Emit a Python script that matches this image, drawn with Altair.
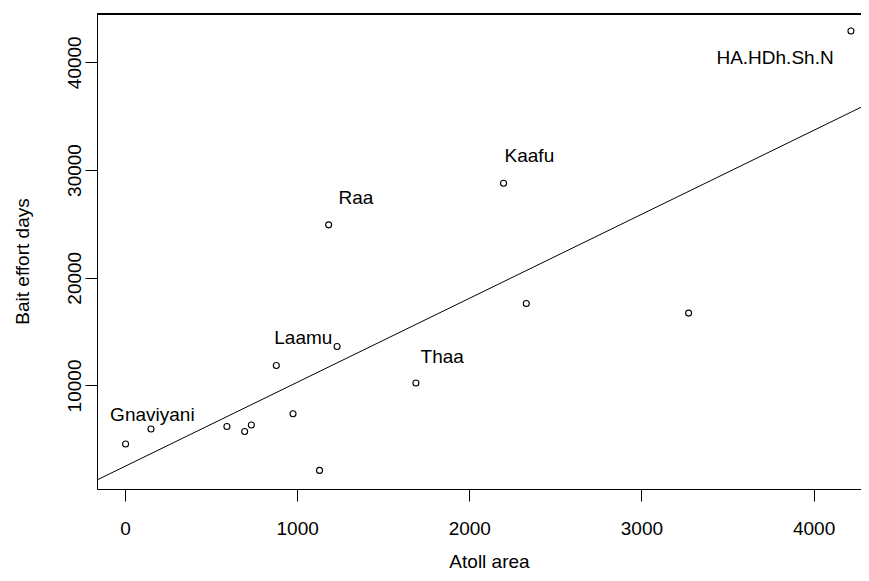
import altair as alt
import pandas as pd

# data
atoll_area = [3.5, 151, 592, 695, 734, 879, 976, 1130, 1232, 1183, 1690, 2199, 2331, 3274, 4217]
bait_effort = [4564, 5955, 6197, 5733, 6327, 11855, 7375, 2115, 13618, 24907, 10223, 28776, 17607, 16716, 42904]

label_names = ["Gnaviyani", "Laamu", "Raa", "Thaa", "Kaafu", "HA.HDh.Sh.N"]
label_x = [159, 1036, 1341, 1843, 2349, 3776]
label_y = [6725, 13840, 26855, 12078, 30779, 39814]

fit_intercept = 2495
fit_slope = 7.795

x_ticks = [0, 1000, 2000, 3000, 4000]
y_ticks = [10000, 20000, 30000, 40000]
x_domain = [-162.6, 4275.4]
y_domain = [390, 44480]

W, H = 764, 475
FONT = "Liberation Sans"

pts = pd.DataFrame({"x": atoll_area, "y": bait_effort})
labs = pd.DataFrame({"x": label_x, "y": label_y, "name": label_names})
fit = pd.DataFrame({"x": x_domain,
                    "y": [fit_intercept + fit_slope * v for v in x_domain]})

X = alt.X("x:Q",
          scale=alt.Scale(domain=x_domain, nice=False, zero=False),
          axis=alt.Axis(values=x_ticks, title="Atoll area", format="d",
                        labelFlush=False, labelOverlap=False, labelBound=False,
                        labelBaseline="alphabetic", labelPadding=33,
                        titleX=392, titleY=78, titleAlign="center",
                        titleBaseline="alphabetic"))
Y = alt.Y("y:Q",
          scale=alt.Scale(domain=y_domain, nice=False, zero=False),
          axis=alt.Axis(values=y_ticks, title="Bait effort days", format="d",
                        labelAngle=270, labelAlign="center",
                        labelBaseline="alphabetic", labelPadding=5,
                        labelFlush=False, labelOverlap=False, labelBound=False,
                        titleAngle=270, titleX=-68.7, titleY=247,
                        titleAlign="center", titleBaseline="alphabetic"))

points = alt.Chart(pts).mark_point(shape="circle", filled=False, color="black",
                                   size=36, strokeWidth=1.1, opacity=1).encode(x=X, y=Y)
line = alt.Chart(fit).mark_line(color="black", strokeWidth=1, clip=True).encode(x=X, y=Y)
text = alt.Chart(labs).mark_text(font=FONT, fontSize=19, color="black",
                                 align="center", baseline="alphabetic").encode(
    x=X, y=Y, text="name:N")
top = alt.Chart(pts).mark_rule(color="black", strokeWidth=1).encode(
    x=alt.value(0), x2=alt.value(W), y=alt.value(0))

chart = alt.layer(line, points, text, top).properties(
    width=W, height=H,
    autosize=alt.AutoSizeParams(type="none"),
    padding={"left": 89, "top": 6, "right": 0, "bottom": 84},
).configure_view(stroke=None).configure_axis(
    grid=False, domainColor="black", tickColor="black", labelColor="black",
    titleColor="black", labelFont=FONT, titleFont=FONT, labelFontSize=19,
    titleFontSize=19, titleFontWeight="normal", tickSize=12, tickWidth=1,
    domainWidth=1,
)

chart.save("out.html", embed_options={"renderer": "svg", "actions": False})
